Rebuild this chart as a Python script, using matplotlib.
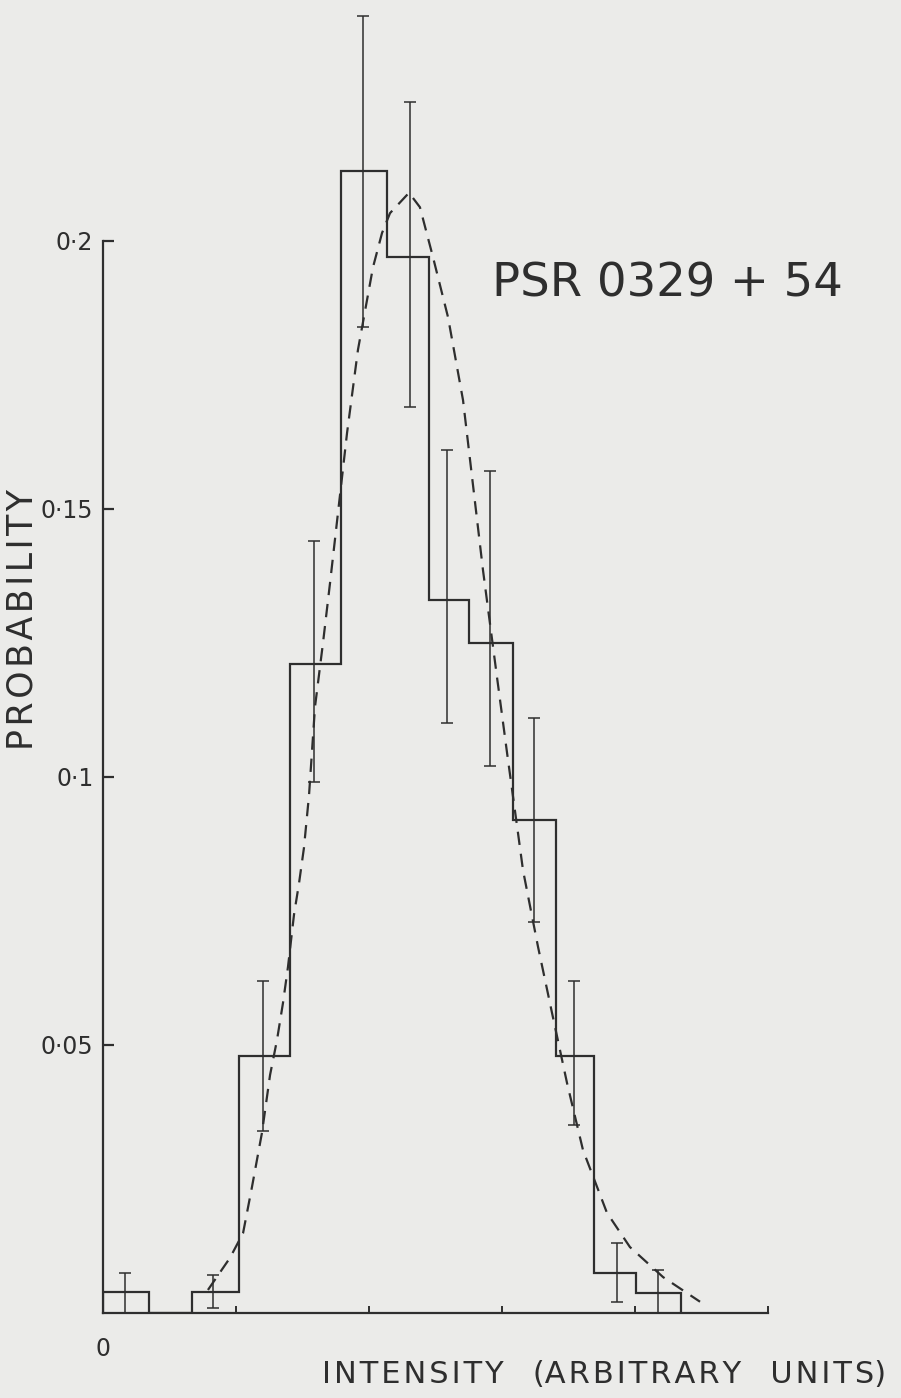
import numpy as np
import matplotlib
matplotlib.use('Agg')
import matplotlib.pyplot as plt

# histogram bin edges (intensity, arbitrary units) and probabilities
edges = [0.0, 0.346, 0.669, 1.023, 1.406, 1.789, 2.135, 2.451, 2.752,
         3.083, 3.406, 3.692, 4.008, 4.346]
prob = [0.004, 0.0, 0.004, 0.048, 0.121, 0.213, 0.197, 0.133, 0.125,
        0.092, 0.048, 0.0075, 0.0037]

# error bars: x position, lower and upper limits
err_x = [0.165, 0.827, 1.203, 1.586, 1.955, 2.308, 2.586, 2.910, 3.241,
         3.541, 3.865, 4.173]
err_y = [0.004, 0.004, 0.048, 0.121, 0.213, 0.197, 0.133, 0.125, 0.092,
         0.048, 0.0075, 0.0037]
err_lo = [0.0, 0.001, 0.034, 0.099, 0.184, 0.169, 0.110, 0.102, 0.073,
          0.035, 0.002, 0.0]
err_hi = [0.0075, 0.007, 0.062, 0.144, 0.242, 0.226, 0.161, 0.157, 0.111,
          0.062, 0.013, 0.008]

# dashed fitted curve
fit_x = [0.789, 0.955, 1.053, 1.120, 1.195, 1.256, 1.308, 1.353, 1.391,
         1.436, 1.474, 1.511, 1.549, 1.594, 1.654, 1.707, 1.835, 1.917,
         2.030, 2.098, 2.158, 2.301, 2.383, 2.481, 2.594, 2.707, 2.857,
         2.962, 3.038, 3.120, 3.158, 3.271, 3.376, 3.489, 3.609, 3.789,
         3.962, 4.211, 4.489]
fit_y = [0.0043, 0.0103, 0.0149, 0.0235, 0.0336, 0.0444, 0.0509, 0.0578,
         0.0646, 0.0743, 0.0802, 0.0868, 0.0966, 0.1131, 0.125, 0.1362,
         0.1642, 0.1797, 0.1951, 0.2015, 0.2052, 0.209, 0.2063, 0.197,
         0.1858, 0.1703, 0.1386, 0.1187, 0.1045, 0.0896, 0.0826, 0.0683,
         0.056, 0.0429, 0.0304, 0.0187, 0.0123, 0.0067, 0.0021]

yticks = [0.05, 0.1, 0.15, 0.2]
ytick_labels = ['0\u00b705', '0\u00b71', '0\u00b715', '0\u00b72']
xticks = [0, 1, 2, 3, 4, 5]
xtick_labels = ['0', '', '', '', '', '']

ink = '#2e2e2e'
paper = '#ebebe9'


def spaced(s):
    # wide letter tracking like the stencilled lettering
    return '\u200a'.join(s)


W, H = 901, 1398
fig = plt.figure(figsize=(W / 100, H / 100), dpi=100, facecolor=paper)
ax = fig.add_axes([103 / W, 85 / H, (W - 103) / W, 1313 / H])
ax.set_facecolor(paper)
ax.set_xlim(0, (W - 103) / 133)
ax.set_ylim(0, 1313 / 5360)

ax.stairs(prob, edges, baseline=0, color=ink, lw=1.6)

yerr = [np.array(err_y) - np.array(err_lo), np.array(err_hi) - np.array(err_y)]
ax.errorbar(err_x, err_y, yerr=yerr, fmt='none', ecolor=ink, elinewidth=1.1,
            capsize=4, capthick=1.1)

ax.plot(fit_x, fit_y, color=ink, lw=1.6, linestyle=(0, (6, 4)))

for s in ['top', 'right']:
    ax.spines[s].set_visible(False)
ax.spines['left'].set_bounds(0, 0.2)
ax.spines['bottom'].set_bounds(0, 5)
for s in ['left', 'bottom']:
    ax.spines[s].set_color(ink)
    ax.spines[s].set_linewidth(1.6)

ax.set_yticks(yticks)
ax.set_yticklabels(ytick_labels)
ax.set_xticks(xticks)
ax.set_xticklabels(xtick_labels)
ax.tick_params(axis='y', direction='in', length=8, width=1.6, color=ink,
               pad=7, labelsize=17, labelcolor=ink)
ax.tick_params(axis='x', direction='in', length=5, width=1.4, color=ink,
               pad=17, labelsize=17, labelcolor=ink)

ax.set_xlabel(spaced('INTENSITY') + '   (' + spaced('ARBITRARY') + '   '
              + spaced('UNITS') + ')', fontsize=22, color=ink)
ax.xaxis.set_label_coords(0.628, -0.036)
ax.set_ylabel(spaced('PROBABILITY'), fontsize=25, color=ink)
ax.yaxis.set_label_coords(-0.079, 0.528)

ax.text(2.925, 0.192, 'PSR 0329 + 54', fontsize=33.5, color=ink,
        ha='left', va='center')

fig.savefig('out.png', dpi=100, facecolor=paper)
